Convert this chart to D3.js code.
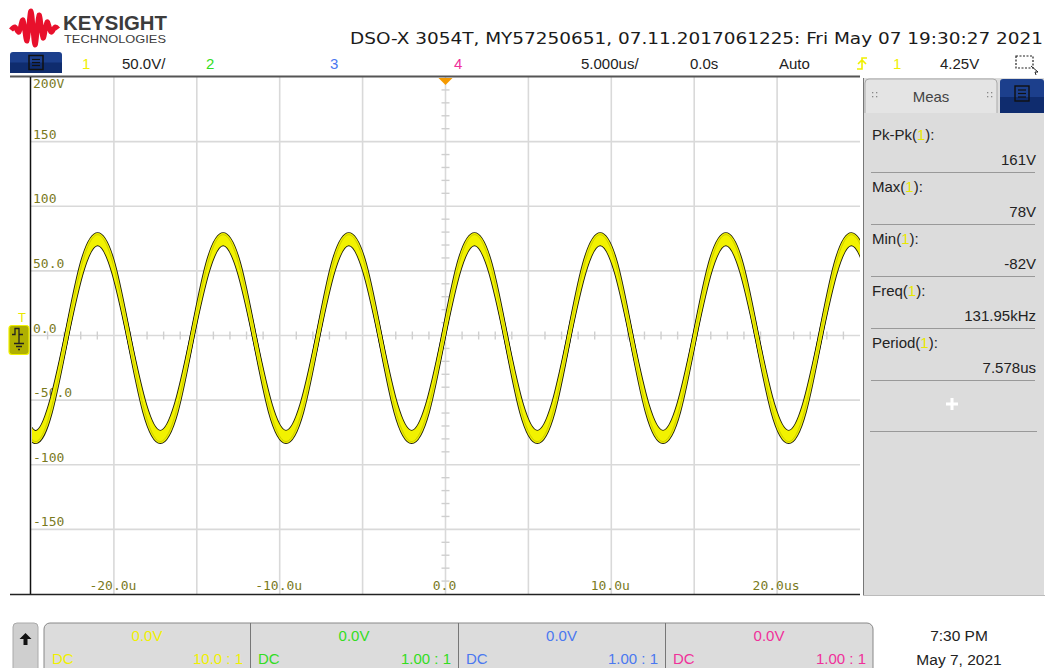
<!DOCTYPE html>
<html><head><meta charset="utf-8">
<script src="https://cdn.jsdelivr.net/npm/d3@7"></script>
<style>
html,body{margin:0;padding:0;background:#fff;}
svg{display:block;}
</style></head>
<body>
<svg id="c" width="1045" height="668"></svg>
<script>
// ---------------- DATA ----------------
const titleText = "DSO-X 3054T, MY57250651, 07.11.2017061225: Fri May 07 19:30:27 2021";
const yTickValues = [200, 150, 100, 50, 0, -50, -100, -150];
const yTickLabels = ["200V", "150", "100", "50.0", "0.0", "-50.0", "-100", "-150"];
const xTickValues = [-20, -10, 0, 10, 20];
const xTickLabels = ["-20.0u", "-10.0u", "0.0", "10.0u", "20.0us"];
// trace samples (time in us, volts): outer & inner edges of the persistence band
const traceTimes = [-25.72,-24.77,-23.83,-22.88,-21.93,-20.98,
  -20.04,-19.09,-18.14,-17.20,-16.25,-15.30,-14.35,-13.41,
  -12.46,-11.51,-10.56,-9.62,-8.67,-7.72,-6.78,-5.83,
  -4.88,-3.93,-2.99,-2.04,-1.09,-0.14,0.80,1.75,
  2.70,3.65,4.59,5.54,6.49,7.43,8.38,9.33,
  10.28,11.22,12.17,13.12,14.06,15.01,15.96,16.91,
  17.85,18.80,19.75,20.70,21.64,22.59,23.54,24.48,
  25.43,26.38];
const traceOuter = [-59,-82,-59,-2,55,78,
  55,-2,-59,-82,-59,-2,55,78,
  55,-2,-59,-82,-59,-2,55,78,
  55,-2,-59,-82,-59,-2,55,78,
  55,-2,-59,-82,-59,-2,55,78,
  55,-2,-59,-82,-59,-2,55,78,
  55,-2,-59,-82,-59,-2,55,78,
  55,-2];
const traceInner = [-54,-75,-54,-2,50,71,
  50,-2,-54,-75,-54,-2,50,71,
  50,-2,-54,-75,-54,-2,50,71,
  50,-2,-54,-75,-54,-2,50,71,
  50,-2,-54,-75,-54,-2,50,71,
  50,-2,-54,-75,-54,-2,50,71,
  50,-2,-54,-75,-54,-2,50,71,
  50,-2];
const measNames = ["Pk-Pk", "Max", "Min", "Freq", "Period"];
const measValues = ["161V", "78V", "-82V", "131.95kHz", "7.578us"];
const chanNums = ["1", "2", "3", "4"];
const chanColors = ["#f0f000", "#33dd22", "#4a78f0", "#f0309a"];
const chanOffsets = ["0.0V", "0.0V", "0.0V", "0.0V"];
const chanCoupling = ["DC", "DC", "DC", "DC"];
const chanProbe = ["10.0 : 1", "1.00 : 1", "1.00 : 1", "1.00 : 1"];
const chanScale = "50.0V/";
const timeScale = "5.000us/";
const timeDelay = "0.0s";
const trigMode = "Auto";
const trigLevel = "4.25V";
const clockTime = "7:30 PM";
const clockDate = "May 7, 2021";

// ---------------- DRAW ----------------
const svg = d3.select("#c");
const UI = "'Liberation Sans', Arial, sans-serif";
const MONO = "'DejaVu Sans Mono', monospace";
const plot = {l: 31, r: 860, t: 77, b: 594};
const x = d3.scaleLinear().domain([-25, 25]).range([plot.l, plot.r]);
const y = d3.scaleLinear().domain([-200, 200]).range([plot.b, plot.t]);

// logo
const logoPts = [[11,30],[15,27],[19,32],[23,20],[27,41],[31,11],[35,45],[39,15],[43,38],[47,22],[51,32],[55,27],[58,29]];
svg.append("path").attr("d", d3.line().curve(d3.curveCardinal)(logoPts))
  .attr("fill", "none").attr("stroke", "#e8102c").attr("stroke-width", 5).attr("stroke-linejoin", "round");
svg.append("text").attr("x", 63).attr("y", 30).text("KEYSIGHT")
  .attr("font-family", UI).attr("font-weight", "bold").attr("font-size", 21).attr("fill", "#3c3c3c")
  .attr("textLength", 104).attr("lengthAdjust", "spacingAndGlyphs");
svg.append("text").attr("x", 64).attr("y", 43).text("TECHNOLOGIES")
  .attr("font-family", UI).attr("font-size", 11.5).attr("fill", "#3c3c3c")
  .attr("textLength", 102).attr("lengthAdjust", "spacingAndGlyphs");

// title
svg.append("text").attr("x", 350).attr("y", 44).text(titleText)
  .attr("font-family", "'DejaVu Sans Condensed', 'DejaVu Sans', sans-serif").attr("font-size", 16.5).attr("fill", "#1a1a1a")
  .attr("textLength", 693).attr("lengthAdjust", "spacingAndGlyphs");

// status row
function menuBtn(x0, y0, w, h) {
  const g = svg.append("g");
  g.append("rect").attr("x", x0).attr("y", y0).attr("width", w).attr("height", h).attr("rx", 3).attr("fill", "#1c3f8c");
  g.append("rect").attr("x", x0).attr("y", y0 + h / 2).attr("width", w).attr("height", h / 2).attr("fill", "#0f2c6e");
  const cx = x0 + w / 2, cy = y0 + h / 2;
  g.append("rect").attr("x", cx - 7).attr("y", cy - 7).attr("width", 14).attr("height", 14).attr("fill", "none").attr("stroke", "#111").attr("stroke-width", 1.5);
  [-3, 0, 3].forEach(d => g.append("line").attr("x1", cx - 4).attr("x2", cx + 4).attr("y1", cy + d).attr("y2", cy + d).attr("stroke", "#111").attr("stroke-width", 1.2));
}
menuBtn(10, 52, 52, 21);
const rowY = 69;
function t(xp, str, col, anchor) {
  return svg.append("text").attr("x", xp).attr("y", rowY).text(str).attr("font-family", UI).attr("font-size", 15)
    .attr("fill", col).attr("text-anchor", anchor || "start");
}
t(82, chanNums[0], chanColors[0]);
t(122, chanScale, "#222");
t(206, chanNums[1], chanColors[1]);
t(330, chanNums[2], chanColors[2]);
t(454, chanNums[3], chanColors[3]);
t(581, timeScale, "#222");
t(690, timeDelay, "#222");
t(779, trigMode, "#222");
// trigger edge icon
svg.append("path").attr("d", "M857,69 h5 v-11 h5 M858,64 l4,-4 l4,4").attr("fill", "none").attr("stroke", "#f0f000").attr("stroke-width", 1.6);
t(893, chanNums[0], chanColors[0]);
t(940, trigLevel, "#222");
// select icon
svg.append("rect").attr("x", 1016).attr("y", 56).attr("width", 17).attr("height", 12).attr("fill", "none")
  .attr("stroke", "#222").attr("stroke-width", 1.2).attr("stroke-dasharray", "2,1.5");
svg.append("path").attr("d", "M1031,66 l7,6 l-3,0 l1,3").attr("fill", "none").attr("stroke", "#222").attr("stroke-width", 1);

// grid
const g = svg.append("g");
const xGrid = d3.range(-25, 25.01, 5);
const yGrid = d3.range(-200, 200.01, 50);
g.selectAll(".vg").data(xGrid.filter(v => v > -25 && v < 25)).join("line")
  .attr("x1", d => x(d)).attr("x2", d => x(d)).attr("y1", plot.t).attr("y2", plot.b)
  .attr("stroke", "#d9d9d9").attr("stroke-width", 1.6);
g.selectAll(".hg").data(yGrid.filter(v => v > -200 && v < 200)).join("line")
  .attr("x1", plot.l).attr("x2", plot.r).attr("y1", d => y(d)).attr("y2", d => y(d))
  .attr("stroke", "#d9d9d9").attr("stroke-width", 1.6);
// minor ticks on centre axes
const xMinor = d3.range(-25, 25.01, 1).filter(v => v % 5 !== 0);
g.selectAll(".xm").data(xMinor).join("line")
  .attr("x1", d => x(d)).attr("x2", d => x(d)).attr("y1", y(0) - 4).attr("y2", y(0) + 4)
  .attr("stroke", "#cfcfcf").attr("stroke-width", 1.4);
const yMinor = d3.range(-200, 200.01, 10).filter(v => v % 50 !== 0);
g.selectAll(".ym").data(yMinor).join("line")
  .attr("x1", x(0) - 4).attr("x2", x(0) + 4).attr("y1", d => y(d)).attr("y2", d => y(d))
  .attr("stroke", "#cfcfcf").attr("stroke-width", 1.4);

// grid labels
g.selectAll(".yl").data(yTickValues).join("text")
  .attr("x", plot.l + 2).attr("y", (d, i) => i === 0 ? y(d) + 11 : y(d) - 3)
  .text((d, i) => yTickLabels[i]).attr("font-family", MONO).attr("font-size", 13).attr("fill", "#7a7a1e");
g.selectAll(".xl").data(xTickValues).join("text")
  .attr("x", d => x(d) - 1).attr("y", plot.b - 4).attr("text-anchor", "middle")
  .text((d, i) => xTickLabels[i]).attr("font-family", MONO).attr("font-size", 13).attr("fill", "#7a7a1e");

// trace
svg.append("clipPath").attr("id", "pc").append("rect")
  .attr("x", plot.l + 1).attr("y", plot.t).attr("width", plot.r - plot.l - 1).attr("height", plot.b - plot.t);
const tr = svg.append("g").attr("clip-path", "url(#pc)");
const lineO = d3.line().curve(d3.curveNatural).x((d, i) => x(traceTimes[i])).y(d => y(d));
const area = d3.area().curve(d3.curveNatural).x((d, i) => x(traceTimes[i]))
  .y0((d, i) => y(traceOuter[i])).y1((d, i) => y(traceInner[i]));
[traceOuter, traceInner].forEach(s => tr.append("path").attr("d", lineO(s)).attr("fill", "none")
  .attr("stroke", "#1e1e0a").attr("stroke-width", 5));
tr.append("path").attr("d", area(traceOuter)).attr("fill", "#f2f200");
[traceOuter, traceInner].forEach(s => tr.append("path").attr("d", lineO(s)).attr("fill", "none")
  .attr("stroke", "#f2f200").attr("stroke-width", 3.2));
// darker persistence core
tr.append("path").attr("d", lineO(traceOuter)).attr("fill", "none")
  .attr("stroke", "#a8a800").attr("stroke-width", 1).attr("opacity", 0.5);

// frame lines
svg.append("line").attr("x1", 10).attr("x2", 860).attr("y1", 76.5).attr("y2", 76.5).attr("stroke", "#555").attr("stroke-width", 2);
svg.append("line").attr("x1", 30.5).attr("x2", 30.5).attr("y1", 77).attr("y2", 595).attr("stroke", "#111").attr("stroke-width", 1.5);
svg.append("line").attr("x1", 10).attr("x2", 860).attr("y1", 594.5).attr("y2", 594.5).attr("stroke", "#222").attr("stroke-width", 1.5);
// trigger position marker
svg.append("path").attr("d", `M${x(0) - 7},78 L${x(0) + 7},78 L${x(0)},85 Z`).attr("fill", "#f59a00");

// channel 1 ground marker
svg.append("text").attr("x", 18).attr("y", 322).text("T").attr("font-family", UI).attr("font-size", 13).attr("fill", "#e8e800");
svg.append("rect").attr("x", 9).attr("y", y(0) - 10).attr("width", 20).attr("height", 29).attr("rx", 3)
  .attr("fill", "#b0b000").attr("stroke", "#f0f000").attr("stroke-width", 1.2);
svg.append("path").attr("d", `M12,${y(0) - 1} h3 v-6 h4 v6 h4 M19,${y(0) - 1} v9 M14,${y(0) + 8} h10 M16,${y(0) + 11} h6 M18,${y(0) + 14} h2`)
  .attr("fill", "none").attr("stroke", "#222").attr("stroke-width", 1.3);

// right measurement panel
const P = svg.append("g");
P.append("rect").attr("x", 863).attr("y", 78).attr("width", 181).attr("height", 517).attr("fill", "#dcdcdc");
P.append("line").attr("x1", 863.5).attr("x2", 863.5).attr("y1", 78).attr("y2", 595).attr("stroke", "#777").attr("stroke-width", 1);
P.append("line").attr("x1", 863).attr("x2", 1045).attr("y1", 595.5).attr("y2", 595.5).attr("stroke", "#bbb").attr("stroke-width", 1);
P.append("path").attr("d", "M865,113 V83 q0,-4 4,-4 H993 q4,0 4,4 V113").attr("fill", "#e4e4e4").attr("stroke", "#aaa");
P.append("text").attr("x", 931).attr("y", 102).attr("text-anchor", "middle").text("Meas")
  .attr("font-family", UI).attr("font-size", 15).attr("fill", "#444");
[872, 987].forEach(xx => {
  [0, 4].forEach(dx => [0, 4].forEach(dy => P.append("rect").attr("x", xx + dx).attr("y", 92 + dy).attr("width", 1.3).attr("height", 1.3).attr("fill", "#888")));
});
P.append("rect").attr("x", 1000).attr("y", 79).attr("width", 44).attr("height", 34).attr("rx", 3).attr("fill", "#1c3f8c");
P.append("rect").attr("x", 1000).attr("y", 97).attr("width", 44).attr("height", 16).attr("fill", "#0f2c6e");
P.append("rect").attr("x", 1015).attr("y", 86).attr("width", 14).attr("height", 15).attr("fill", "none").attr("stroke", "#111").attr("stroke-width", 1.4);
[90, 93.5, 97].forEach(yy => P.append("line").attr("x1", 1018).attr("x2", 1026).attr("y1", yy).attr("y2", yy).attr("stroke", "#111").attr("stroke-width", 1.2));
measNames.forEach((nm, i) => {
  const by = 140 + i * 52;
  const tx = P.append("text").attr("x", 872).attr("y", by).attr("font-family", UI).attr("font-size", 15).attr("fill", "#222");
  tx.append("tspan").text(nm + "(");
  tx.append("tspan").text(chanNums[0]).attr("fill", "#e8e800");
  tx.append("tspan").text("):");
  P.append("text").attr("x", 1036).attr("y", by + 25).attr("text-anchor", "end").text(measValues[i])
    .attr("font-family", UI).attr("font-size", 15).attr("fill", "#222");
  P.append("line").attr("x1", 871).attr("x2", 1035).attr("y1", by + 32.5).attr("y2", by + 32.5).attr("stroke", "#999").attr("stroke-width", 1);
});
P.append("path").attr("d", "M952,398 v12 M946,404 h12").attr("stroke", "#fff").attr("stroke-width", 3);
P.append("line").attr("x1", 870).attr("x2", 1037).attr("y1", 431.5).attr("y2", 431.5).attr("stroke", "#999").attr("stroke-width", 1);

// bottom channel bar
const B = svg.append("g");
B.append("rect").attr("x", 13).attr("y", 623).attr("width", 25).attr("height", 52).attr("rx", 4).attr("fill", "#cfcfcf").attr("stroke", "#aaa");
B.append("path").attr("d", "M25.5,633 l-6,6 h4 v6 h4 v-6 h4 Z").attr("fill", "#111");
B.append("rect").attr("x", 44).attr("y", 623).attr("width", 829).attr("height", 60).attr("rx", 6).attr("fill", "#dcdcdc").attr("stroke", "#888");
const cw = [44, 250, 458, 665, 873];
chanNums.forEach((c, i) => {
  const x0 = cw[i], x1 = cw[i + 1];
  if (i > 0) B.append("line").attr("x1", x0 + 0.5).attr("x2", x0 + 0.5).attr("y1", 623).attr("y2", 668).attr("stroke", "#777");
  B.append("text").attr("x", (x0 + x1) / 2).attr("y", 641).attr("text-anchor", "middle").text(chanOffsets[i])
    .attr("font-family", UI).attr("font-size", 15).attr("fill", chanColors[i]);
  B.append("text").attr("x", x0 + 8).attr("y", 664).text(chanCoupling[i])
    .attr("font-family", UI).attr("font-size", 15).attr("fill", chanColors[i]);
  B.append("text").attr("x", x1 - 7).attr("y", 664).attr("text-anchor", "end").text(chanProbe[i])
    .attr("font-family", UI).attr("font-size", 15).attr("fill", chanColors[i]);
});
svg.append("text").attr("x", 959).attr("y", 641).attr("text-anchor", "middle").text(clockTime)
  .attr("font-family", UI).attr("font-size", 15.5).attr("fill", "#222");
svg.append("text").attr("x", 959).attr("y", 665).attr("text-anchor", "middle").text(clockDate)
  .attr("font-family", UI).attr("font-size", 15.5).attr("fill", "#222");
</script>
</body></html>
